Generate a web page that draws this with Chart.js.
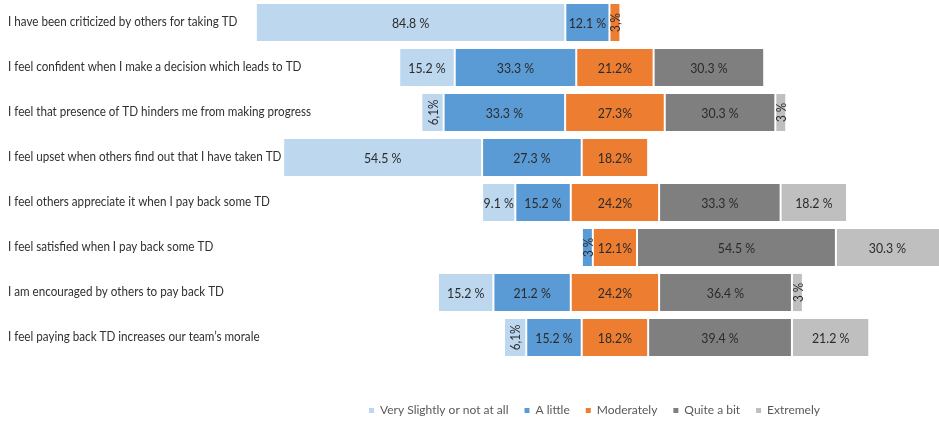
<!DOCTYPE html>
<html>
<head>
<meta charset="utf-8">
<script src="https://cdn.jsdelivr.net/npm/chart.js@4"></script>
<style>
  body { margin: 0; background: #fff; }
  #wrap { width: 939px; height: 422px; }
</style>
</head>
<body>
<div id="wrap"><canvas id="chart" width="939" height="422"></canvas></div>
<script>
// statements (top to bottom)
const statements = [
  'I have been criticized by others for taking TD',
  'I feel confident when I make a decision which leads to TD',
  'I feel that presence of TD hinders me from making progress',
  'I feel upset when others find out that I have taken TD',
  'I feel others appreciate it when I pay back some TD',
  'I feel satisfied when I pay back some TD',
  'I am encouraged by others to pay back TD',
  'I feel paying back TD increases our team\u2019s morale'
];

const seriesNames = ['Very Slightly or not at all', 'A little', 'Moderately', 'Quite a bit', 'Extremely'];
const seriesColors = ['#BDD7EE', '#5B9BD5', '#ED7D31', '#7F7F7F', '#BFBFBF'];

// percentages per answer, one value per statement
const verySlightly = [84.8, 15.2, 6.1, 54.5, 9.1, 0, 15.2, 6.1];
const aLittle      = [12.1, 33.3, 33.3, 27.3, 15.2, 3.0, 21.2, 15.2];
const moderately   = [3.0, 21.2, 27.3, 18.2, 24.2, 12.1, 24.2, 18.2];
const quiteABit    = [0, 30.3, 30.3, 0, 33.3, 54.5, 36.4, 39.4];
const extremely    = [0, 0, 3.0, 0, 18.2, 30.3, 3.0, 21.2];

// label text that differs from the usual format
const labelOverrides = { '2,0': '3,%' };

const allSeries = [verySlightly, aLittle, moderately, quiteABit, extremely];

// floating bars, centred on the middle of "Moderately"
const ranges = allSeries.map(() => []);
statements.forEach((s, i) => {
  let start = -(verySlightly[i] + aLittle[i] + moderately[i] / 2);
  allSeries.forEach((vals, d) => {
    ranges[d].push([start, start + vals[i]]);
    start += vals[i];
  });
});

function labelText(d, i) {
  const key = d + ',' + i;
  if (labelOverrides[key]) return labelOverrides[key];
  const v = allSeries[d][i];
  if (v < 7) return String(v).replace('.', ',') + (Number.isInteger(v) ? ' %' : '%');
  return v.toFixed(1) + (d === 2 ? '%' : ' %');
}

const FONT = "Lato, 'Open Sans', sans-serif";
Chart.defaults.font.family = FONT;

// narrow text, close to the original Calibri look
function narrowText(ctx, txt, x, y, sx) {
  ctx.save();
  ctx.translate(x, y);
  ctx.scale(sx, 1);
  ctx.fillText(txt, 0, 0);
  ctx.restore();
}

// statement labels on the left, left aligned
const rowLabels = {
  id: 'rowLabels',
  afterDraw(chart) {
    const ctx = chart.ctx;
    const y = chart.scales.y;
    ctx.save();
    ctx.fillStyle = '#303030';
    ctx.font = '14px ' + FONT;
    ctx.textBaseline = 'middle';
    ctx.textAlign = 'left';
    statements.forEach((s, i) => narrowText(ctx, s, 8, y.getPixelForTick(i) - 1, 0.833));
    ctx.restore();
  }
};

const barLabels = {
  id: 'barLabels',
  afterDatasetsDraw(chart) {
    const ctx = chart.ctx;
    const area = chart.chartArea;
    ctx.save();
    ctx.fillStyle = '#2b2b2b';
    ctx.textBaseline = 'middle';
    ctx.textAlign = 'center';
    chart.data.datasets.forEach((ds, d) => {
      chart.getDatasetMeta(d).data.forEach((bar, i) => {
        const v = allSeries[d][i];
        if (!v) return;
        const left = Math.max(Math.min(bar.x, bar.base), area.left);
        const right = Math.min(Math.max(bar.x, bar.base), area.right);
        const cx = (left + right) / 2;
        const txt = labelText(d, i);
        if (v < 7) {
          ctx.font = '13px ' + FONT;
          ctx.save();
          ctx.translate(cx, bar.y);
          ctx.rotate(-Math.PI / 2);
          narrowText(ctx, txt, 0, 1, 0.9);
          ctx.restore();
        } else {
          ctx.font = '14px ' + FONT;
          narrowText(ctx, txt, cx, bar.y + 1, 0.88);
        }
      });
    });
    ctx.restore();
  }
};

new Chart(document.getElementById('chart'), {
  type: 'bar',
  data: {
    labels: statements,
    datasets: seriesNames.map((name, d) => ({
      label: name,
      data: ranges[d],
      backgroundColor: seriesColors[d],
      borderColor: '#ffffff',
      borderWidth: 1,
      borderSkipped: false,
      barPercentage: 0.87,
      categoryPercentage: 1
    }))
  },
  options: {
    indexAxis: 'y',
    responsive: false,
    animation: false,
    layout: { padding: { left: 8, right: 0, top: 0, bottom: 0 } },
    scales: {
      x: {
        min: -100,
        max: 88.8,
        ticks: { display: false },
        grid: { display: false },
        border: { display: false },
        afterFit: (s) => { s.height = 28.5; }
      },
      y: {
        stacked: true,
        grid: { display: false },
        border: { display: false },
        ticks: { display: false },
        afterFit: (s) => { s.width = 242; }
      }
    },
    plugins: {
      tooltip: { enabled: false },
      legend: {
        position: 'bottom',
        fullSize: false,
        maxHeight: 33.5,
        labels: {
          boxWidth: 5,
          boxHeight: 5,
          padding: 16,
          color: '#595959',
          font: { size: 12 },
          generateLabels: (chart) =>
            Chart.defaults.plugins.legend.labels.generateLabels(chart).map(l => ({ ...l, lineWidth: 0 }))
        }
      }
    }
  },
  plugins: [barLabels, rowLabels]
});
</script>
</body>
</html>
